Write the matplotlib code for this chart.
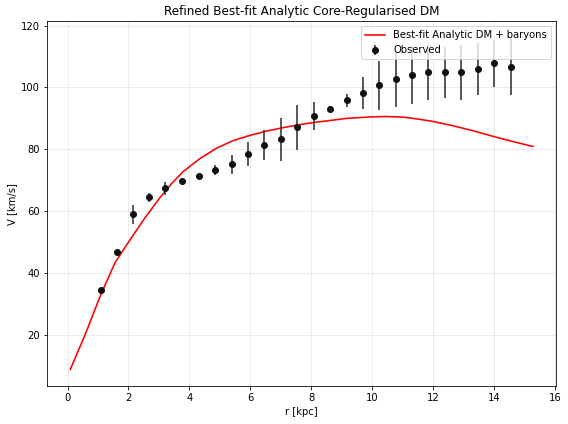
import matplotlib
matplotlib.use('Agg')
import matplotlib.pyplot as plt

# observed rotation curve
r_obs = [1.09, 1.62, 2.16, 2.69, 3.21, 3.77, 4.31, 4.85, 5.39, 5.93, 6.46, 7.00, 7.54,
         8.08, 8.62, 9.16, 9.70, 10.24, 10.78, 11.32, 11.85, 12.39, 12.93, 13.47, 14.01, 14.55]
v_obs = [34.5, 46.8, 58.9, 64.4, 67.3, 69.6, 71.3, 73.2, 75.1, 78.4, 81.4, 83.2, 87.1,
         90.7, 93.0, 95.8, 98.2, 100.7, 102.7, 104.0, 104.9, 104.9, 104.9, 106.0, 107.8, 106.8]
v_err = [0.4, 0.5, 3.0, 1.5, 2.2, 0.5, 0.5, 1.6, 3.0, 3.9, 4.8, 6.9, 7.3,
         4.6, 1.0, 2.0, 5.2, 7.9, 9.0, 9.4, 9.0, 8.3, 8.9, 8.4, 7.7, 9.3]

# best-fit model curve
r_model = [0.09, 0.58, 1.07, 1.56, 2.06, 2.55, 3.04, 3.4, 3.8, 4.35, 4.9, 5.44, 5.99, 6.54,
           7.08, 7.63, 8.18, 8.61, 9.16, 10.0, 10.47, 11.02, 11.56, 12.0, 12.66, 13.31,
           14.0, 14.62, 15.28]
v_model = [8.7, 20.0, 32.4, 43.3, 50.8, 57.9, 64.4, 68.7, 72.8, 77.0, 80.4, 82.8, 84.5, 85.9,
           87.0, 88.0, 88.8, 89.3, 90.0, 90.5, 90.6, 90.4, 89.7, 89.0, 87.6, 86.0,
           84.1, 82.5, 80.9]

fig = plt.figure(figsize=(568 / 72, 424 / 72), dpi=72)
ax = fig.add_axes([0.083, 0.0896, 0.896, 0.8604])

ax.plot(r_model, v_model, color='red', lw=1.6, label='Best-fit Analytic DM + baryons')
ax.errorbar(r_obs, v_obs, yerr=v_err, fmt='o', color='#111111', ecolor='#333333',
            elinewidth=1.6, markersize=6, label='Observed')

ax.set_xlabel('r [kpc]')
ax.set_ylabel('V [km/s]')
ax.set_title('Refined Best-fit Analytic Core-Regularised DM')
ax.grid(True, alpha=0.3)
ax.legend(loc='upper right')

fig.savefig('out.png', dpi=72)
